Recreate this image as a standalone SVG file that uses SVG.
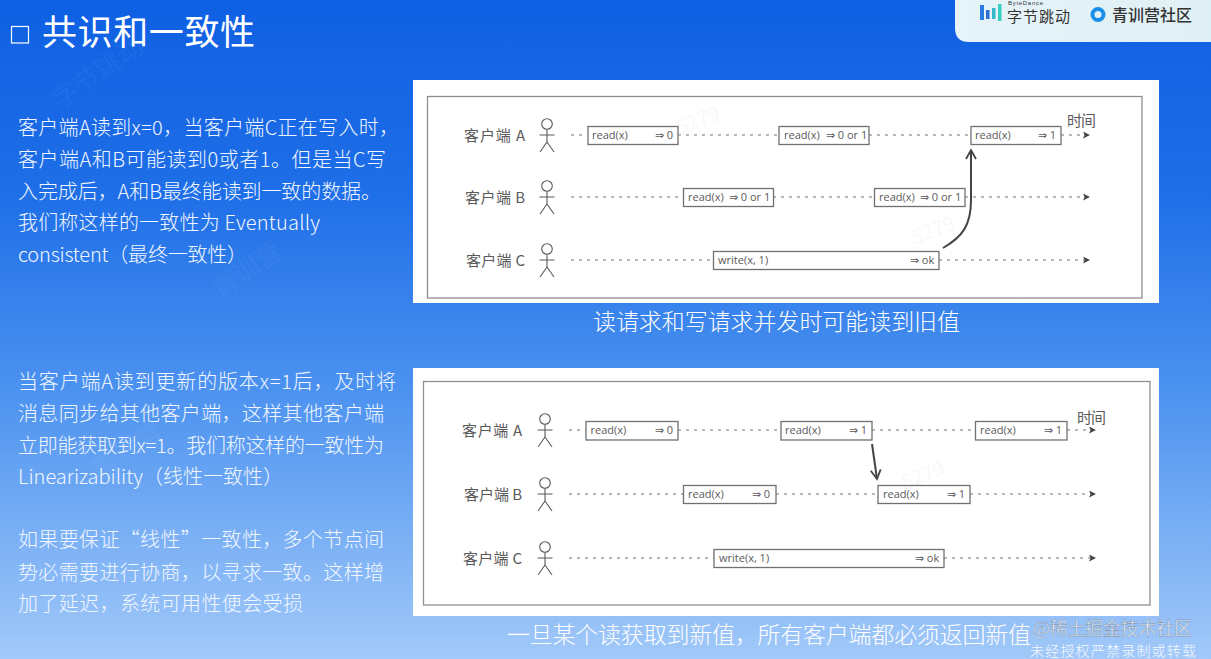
<svg xmlns="http://www.w3.org/2000/svg" width="1211" height="659" viewBox="0 0 1211 659">
<style>
.cjk{font-family:"Noto Sans CJK SC","Noto Sans",sans-serif}
.body{font-family:"Noto Sans CJK SC","Noto Sans",sans-serif;font-size:20px;fill:#f2f7ff;font-weight:300}
.cap{font-family:"Noto Sans CJK SC",sans-serif;font-size:23px;fill:#fff;font-weight:300}
.lbl{font-family:"Noto Sans CJK SC",sans-serif;font-size:15px;fill:#5a5a5a}
.box{fill:#fff;stroke:#707070;stroke-width:1.3}
.bt{font-family:"Open Sans","Noto Sans",sans-serif;font-size:11px;fill:#5a5a5a}
.dash{fill:none;stroke:#707070;stroke-width:1;stroke-dasharray:3 5}
.frame{fill:#fff;stroke:#909090;stroke-width:1.3}
.actor{fill:none;stroke:#5a5a5a;stroke-width:1.1}
.wm{font-family:"Noto Sans CJK SC",sans-serif;font-size:26px;fill:#fff;opacity:.04}
.wd{font-family:"Noto Sans CJK SC",sans-serif;font-size:20px;fill:#999;opacity:.06}
</style>
<defs>
<linearGradient id="bg" x1="0" y1="0" x2="0" y2="1">
<stop offset="0" stop-color="#0f5fe3"/>
<stop offset=".3" stop-color="#1f6fe8"/>
<stop offset=".6" stop-color="#4d93f0"/>
<stop offset="1" stop-color="#a2c9f9"/>
</linearGradient>
<linearGradient id="card" x1="0" y1="0" x2="1" y2="0">
<stop offset="0" stop-color="#e6f3f8"/>
<stop offset="1" stop-color="#dff0f5"/>
</linearGradient>
<marker id="tip" markerWidth="8" markerHeight="8" refX="1" refY="3.500" orient="auto" markerUnits="userSpaceOnUse">
<path d="M0 0L7 3.500L0 7L1.500 3.500Z" fill="#444"/>
</marker>
<marker id="open" markerWidth="14" markerHeight="14" refX="10" refY="6" orient="auto" markerUnits="userSpaceOnUse">
<path d="M1 1L10 6L1 11" fill="none" stroke="#444" stroke-width="1.800"/>
</marker>
<g id="actor">
<circle cx="0" cy="-11" r="5.300" class="actor"/>
<path d="M0 -5.500V7M-7.500 0H7.500M0 7L-7 17M0 7L7 17" class="actor"/>
</g>
</defs>
<rect id="background" width="1211" height="659" fill="url(#bg)"/>
<g id="watermarks">
<text class="wm" transform="translate(60 110) rotate(-35)">字节跳动</text>
<text class="wm" transform="translate(220 300) rotate(-35)">青训营</text>
<text class="wm" transform="translate(100 480) rotate(-35)">青训营</text>
</g>
<g id="header">
<path d="M955 0H1211V42H969Q955 42 955 28Z" fill="url(#card)"/>
<rect x="980" y="5" width="4" height="15" fill="#2a7de0"/>
<rect x="986" y="10" width="3.500" height="9" fill="#2a6fd0"/>
<rect x="992" y="8" width="3.500" height="11" fill="#35b8c8"/>
<rect x="998" y="4" width="3.500" height="17" fill="#35cfc0"/>
<text x="1008" y="5" font-family="'Liberation Sans',sans-serif" font-size="6" fill="#333" textLength="35">ByteDance</text>
<text class="cjk" x="1007" y="22" font-size="15" fill="#333" textLength="63">字节跳动</text>
<circle cx="1098" cy="14.500" r="5.500" fill="none" stroke="#1a8fe8" stroke-width="4"/>
<text class="cjk" x="1112" y="21" font-size="16" font-weight="500" fill="#333" textLength="80">青训营社区</text>
</g>
<g id="title">
<rect x="11.500" y="26.500" width="17" height="16.500" fill="none" stroke="#fff" stroke-width="1.200"/>
<text class="cjk" x="42" y="45" font-size="35" fill="#fff" textLength="213">共识和一致性</text>
</g>
<g id="para-1">
<text class="body" x="18" y="135" textLength="381">客户端A读到x=0，当客户端C正在写入时，</text>
<text class="body" x="18" y="167" textLength="368">客户端A和B可能读到0或者1。但是当C写</text>
<text class="body" x="18" y="199" textLength="363">入完成后，A和B最终能读到一致的数据。</text>
<text class="body" x="18" y="230" textLength="302">我们称这样的一致性为 Eventually</text>
<text class="body" x="18" y="262" textLength="229">consistent（最终一致性）</text>
</g>
<g id="para-2">
<text class="body" x="18" y="389" textLength="378">当客户端A读到更新的版本x=1后，及时将</text>
<text class="body" x="18" y="421" textLength="366">消息同步给其他客户端，这样其他客户端</text>
<text class="body" x="18" y="453" textLength="366">立即能获取到x=1。我们称这样的一致性为</text>
<text class="body" x="18" y="484" textLength="265">Linearizability（线性一致性）</text>
</g>
<g id="para-3">
<text class="body" x="18" y="547" textLength="366">如果要保证“线性”一致性，多个节点间</text>
<text class="body" x="18" y="580" textLength="366">势必需要进行协商，以寻求一致。这样增</text>
<text class="body" x="18" y="611" textLength="285">加了延迟，系统可用性便会受损</text>
</g>

<g id="panel-top">
<rect x="413" y="80" width="746" height="223" fill="#fff"/>
<rect class="frame" x="427.500" y="96.500" width="714.500" height="201.500"/>
</g>
<g id="panel-bottom">
<rect x="413" y="368" width="746" height="248" fill="#fff"/>
<rect class="frame" x="423.500" y="381.500" width="726.500" height="223.500"/>
</g>

<g id="connectors">
<path class="dash" d="M571 135H587M678 135H778M869 135H970M1061 135H1084" marker-end="url(#tip)"/>
<path class="dash" d="M571 197H683M773 197H874M965 197H1084" marker-end="url(#tip)"/>
<path class="dash" d="M571 260H713M939 260H1084" marker-end="url(#tip)"/>
<path d="M943 248C962 237 971 226 971 200V150" fill="none" stroke="#444" stroke-width="2" marker-end="url(#open)"/>
<path class="dash" d="M569 430H585M678 430H780M872 430H975M1067 430H1090" marker-end="url(#tip)"/>
<path class="dash" d="M569 494H683M776 494H878M970 494H1090" marker-end="url(#tip)"/>
<path class="dash" d="M569 558H714M944 558H1090" marker-end="url(#tip)"/>
<path d="M872 444L877 479" fill="none" stroke="#444" stroke-width="2" marker-end="url(#open)"/>
</g>

<g id="top-client-a"><text class="lbl" x="464" y="141" textLength="61">客户端 A</text><use href="#actor" x="547" y="135"/></g>
<g id="top-client-b"><text class="lbl" x="465" y="203" textLength="60">客户端 B</text><use href="#actor" x="547" y="197"/></g>
<g id="top-client-c"><text class="lbl" x="466" y="266" textLength="59">客户端 C</text><use href="#actor" x="547" y="260"/></g>
<g id="top-a1"><rect class="box" x="588" y="126.500" width="90" height="18"/><text class="bt" x="592" y="139">read(x)</text><text class="bt" x="655" y="139">⇒ 0</text></g>
<g id="top-a2"><rect class="box" x="779" y="126.500" width="90" height="18"/><text class="bt" x="784" y="139">read(x)</text><text class="bt" x="826" y="139">⇒ 0 or 1</text></g>
<g id="top-a3"><rect class="box" x="971" y="126.500" width="90" height="18"/><text class="bt" x="975" y="139">read(x)</text><text class="bt" x="1038" y="139">⇒ 1</text></g>
<g id="top-b1"><rect class="box" x="683.500" y="188.500" width="90" height="18"/><text class="bt" x="688" y="201">read(x)</text><text class="bt" x="729" y="201">⇒ 0 or 1</text></g>
<g id="top-b2"><rect class="box" x="874.500" y="188.500" width="90.500" height="18"/><text class="bt" x="879" y="201">read(x)</text><text class="bt" x="920" y="201">⇒ 0 or 1</text></g>
<g id="top-c1"><rect class="box" x="713.500" y="251.500" width="225.500" height="18"/><text class="bt" x="718" y="264">write(x, 1)</text><text class="bt" x="910" y="264">⇒ ok</text></g>
<text class="lbl" x="1067" y="126" textLength="29">时间</text>

<g id="bottom-client-a"><text class="lbl" x="462" y="436" textLength="60">客户端 A</text><use href="#actor" x="545" y="430"/></g>
<g id="bottom-client-b"><text class="lbl" x="464" y="500" textLength="58">客户端 B</text><use href="#actor" x="545" y="494"/></g>
<g id="bottom-client-c"><text class="lbl" x="463" y="564" textLength="59">客户端 C</text><use href="#actor" x="545" y="558"/></g>
<g id="bottom-a1"><rect class="box" x="586" y="421.500" width="92" height="18.500"/><text class="bt" x="590.500" y="434">read(x)</text><text class="bt" x="655" y="434">⇒ 0</text></g>
<g id="bottom-a2"><rect class="box" x="781" y="421.500" width="91" height="18.500"/><text class="bt" x="785" y="434">read(x)</text><text class="bt" x="849" y="434">⇒ 1</text></g>
<g id="bottom-a3"><rect class="box" x="975.500" y="421.500" width="91.500" height="18.500"/><text class="bt" x="980" y="434">read(x)</text><text class="bt" x="1044" y="434">⇒ 1</text></g>
<g id="bottom-b1"><rect class="box" x="683.500" y="485.500" width="92.500" height="18"/><text class="bt" x="688" y="498">read(x)</text><text class="bt" x="752" y="498">⇒ 0</text></g>
<g id="bottom-b2"><rect class="box" x="878" y="485.500" width="92" height="18"/><text class="bt" x="883" y="498">read(x)</text><text class="bt" x="947" y="498">⇒ 1</text></g>
<g id="bottom-c1"><rect class="box" x="714" y="549.500" width="230" height="18"/><text class="bt" x="719" y="562">write(x, 1)</text><text class="bt" x="915" y="562">⇒ ok</text></g>
<text class="lbl" x="1077" y="423" textLength="29">时间</text>

<g id="paper-watermarks">
<text class="wd" transform="translate(680 135) rotate(-22)">5279</text>
<text class="wd" transform="translate(915 245) rotate(-22)">5279</text>
<text class="wd" transform="translate(905 490) rotate(-22)">5279</text>
</g>

<text id="caption-top" class="cap" x="593" y="330" textLength="367">读请求和写请求并发时可能读到旧值</text>
<text id="caption-bottom" class="cap" x="507" y="643" textLength="524">一旦某个读获取到新值，所有客户端都必须返回新值</text>
<g id="source-mark">
<text class="cjk" x="1033" y="635" font-size="18" fill="#dfe8f3" stroke="#6d7f99" stroke-width=".3" textLength="159">@稀土掘金技术社区</text>
<text class="cjk" x="1030" y="656" font-size="14" fill="#f4f8ff" font-weight="300" textLength="166">未经授权严禁录制或转载</text>
</g>
</svg>
